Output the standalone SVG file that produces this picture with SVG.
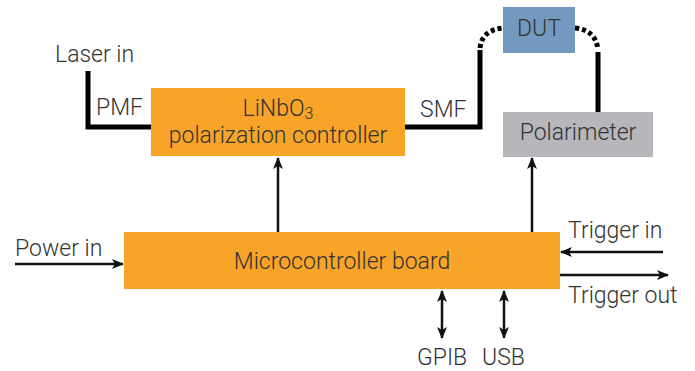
<svg xmlns="http://www.w3.org/2000/svg" width="695" height="371" viewBox="0 0 695 371">
<style>
text{font-family:Roboto,"Liberation Sans",sans-serif;font-weight:300;font-size:23px;fill:#333}
.c{text-anchor:middle}
.fiber{fill:none;stroke:#000;stroke-width:5}
.dot{fill:none;stroke:#000;stroke-width:5;stroke-dasharray:4 3}
.sig{fill:none;stroke:#111;stroke-width:2.5}
</style>
<defs>
<marker id="ah" viewBox="0 0 12 10" refX="11" refY="5" markerWidth="12" markerHeight="10" markerUnits="userSpaceOnUse" orient="auto-start-reverse">
<path d="M0,0 L12,5 L0,10 L3,5 Z" fill="#111"/>
</marker>
</defs>
<g id="connectors">
<path class="fiber" d="M88,71 V127 H151"/>
<path class="fiber" d="M405,127 H480 V50"/>
<path class="dot" d="M480,48 Q482,30 503,28"/>
<path class="dot" d="M575,28 Q596,30 598,50"/>
<path class="fiber" d="M598,52 V112"/>
<path class="sig" d="M278,232 V158" marker-end="url(#ah)"/>
<path class="sig" d="M532,232 V158" marker-end="url(#ah)"/>
<path class="sig" d="M15,264 H123" marker-end="url(#ah)"/>
<path class="sig" d="M663,252 H561" marker-end="url(#ah)"/>
<path class="sig" d="M560,275 H668" marker-end="url(#ah)"/>
<path class="sig" d="M442,291 V338" marker-start="url(#ah)" marker-end="url(#ah)"/>
<path class="sig" d="M504,291 V338" marker-start="url(#ah)" marker-end="url(#ah)"/>
</g>
<g id="laser-in"><text x="55" y="62">Laser in</text></g>
<g id="pmf"><text x="96" y="115">PMF</text></g>
<g id="smf"><text x="420" y="117">SMF</text></g>
<g id="controller">
<rect x="151" y="88" width="254" height="68" fill="#F7A428"/>
<text class="c" x="278" y="116">LiNbO<tspan font-size="16" dy="3">3</tspan></text>
<text class="c" x="278" y="143">polarization controller</text>
</g>
<g id="dut">
<rect x="503" y="7" width="72" height="46" fill="#7399BE"/>
<text class="c" x="539" y="36">DUT</text>
</g>
<g id="polarimeter">
<rect x="503" y="112" width="150" height="45" fill="#B7B6BB"/>
<text class="c" x="578" y="140">Polarimeter</text>
</g>
<g id="board">
<rect x="124" y="232" width="436" height="57" fill="#F7A428"/>
<text class="c" x="342" y="269">Microcontroller board</text>
</g>
<g id="power-in"><text x="15" y="256">Power in</text></g>
<g id="trigger-in"><text x="568" y="238">Trigger in</text></g>
<g id="trigger-out"><text x="568" y="303">Trigger out</text></g>
<g id="gpib"><text x="417" y="365">GPIB</text></g>
<g id="usb"><text x="482" y="365">USB</text></g>
</svg>
